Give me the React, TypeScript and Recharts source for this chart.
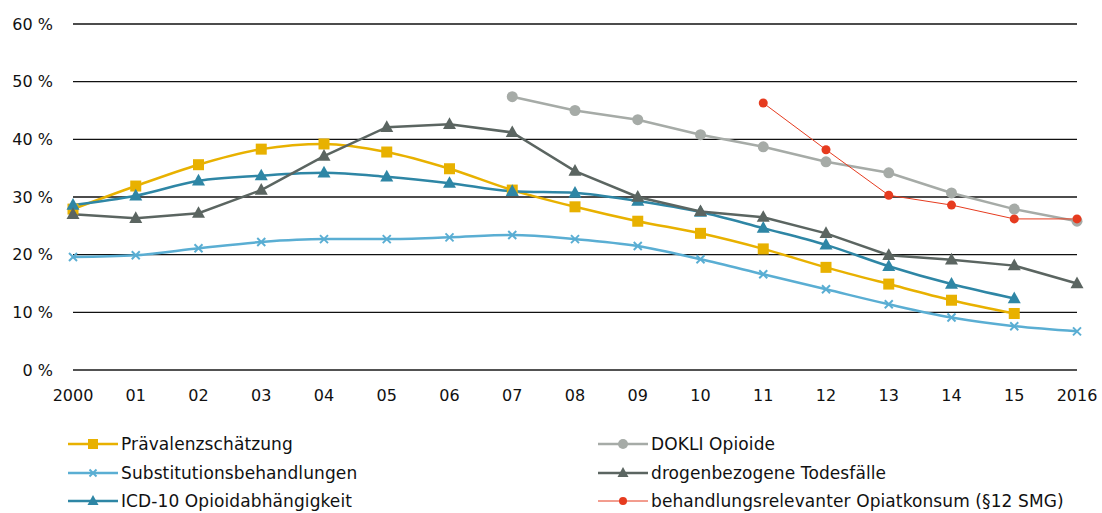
import { LineChart, Line, XAxis, YAxis, CartesianGrid } from 'recharts';

const years = [2000, 2001, 2002, 2003, 2004, 2005, 2006, 2007, 2008, 2009, 2010, 2011, 2012, 2013, 2014, 2015, 2016];
const yTicks = [0, 10, 20, 30, 40, 50, 60];

// Werte in %, null = kein Wert
const praevalenz = [27.9, 31.9, 35.6, 38.3, 39.2, 37.8, 34.9, 31.2, 28.3, 25.8, 23.7, 21.0, 17.8, 14.9, 12.1, 9.8, null];
const substitution = [19.6, 19.9, 21.1, 22.2, 22.7, 22.7, 23.0, 23.4, 22.7, 21.5, 19.2, 16.6, 14.0, 11.4, 9.1, 7.6, 6.7];
const icd10 = [28.6, 30.2, 32.8, 33.7, 34.2, 33.5, 32.4, 31.0, 30.7, 29.3, 27.4, 24.6, 21.7, 18.0, 14.9, 12.4, null];
const dokli = [null, null, null, null, null, null, null, 47.4, 45.0, 43.4, 40.8, 38.7, 36.1, 34.2, 30.7, 27.9, 25.8];
const todesfaelle = [27.0, 26.3, 27.2, 31.2, 37.1, 42.1, 42.6, 41.2, 34.5, 30.0, 27.5, 26.5, 23.7, 19.9, 19.1, 18.1, 15.0];
const opiatkonsum = [null, null, null, null, null, null, null, null, null, null, null, 46.3, 38.2, 30.3, 28.6, 26.2, 26.2];

const data = years.map((year, i) => ({
  year,
  praevalenz: praevalenz[i],
  substitution: substitution[i],
  icd10: icd10[i],
  dokli: dokli[i],
  todesfaelle: todesfaelle[i],
  opiatkonsum: opiatkonsum[i],
}));

const FONT = '"DejaVu Sans", sans-serif';

const Marker = ({ cx, cy, shape, color, size }: any) => {
  if (cx == null || cy == null) return null;
  if (shape === 'square') {
    return <rect x={cx - size / 2} y={cy - size / 2} width={size} height={size} fill={color} />;
  }
  if (shape === 'triangle') {
    const h = size * 0.9;
    return (
      <polygon
        points={`${cx},${cy - h * 0.6} ${cx - size / 2},${cy + h * 0.4} ${cx + size / 2},${cy + h * 0.4}`}
        fill={color}
      />
    );
  }
  if (shape === 'cross') {
    const d = size / 2;
    return (
      <g stroke={color} strokeWidth={2}>
        <line x1={cx - d} y1={cy - d} x2={cx + d} y2={cy + d} />
        <line x1={cx - d} y1={cy + d} x2={cx + d} y2={cy - d} />
      </g>
    );
  }
  return <circle cx={cx} cy={cy} r={size / 2} fill={color} />;
};

const series = [
  { key: 'praevalenz', name: 'Prävalenzschätzung', color: '#E8B100', shape: 'square', size: 11, width: 2.5, type: 'monotone' },
  { key: 'substitution', name: 'Substitutionsbehandlungen', color: '#5AAED3', shape: 'cross', size: 8, width: 2.5, type: 'monotone' },
  { key: 'icd10', name: 'ICD-10 Opioidabhängigkeit', color: '#2E86A5', shape: 'triangle', size: 13, width: 2.5, type: 'monotone' },
  { key: 'dokli', name: 'DOKLI Opioide', color: '#A6ABA7', shape: 'circle', size: 11, width: 2.5, type: 'linear' },
  { key: 'todesfaelle', name: 'drogenbezogene Todesfälle', color: '#5B6561', shape: 'triangle', size: 13, width: 2.5, type: 'linear' },
  { key: 'opiatkonsum', name: 'behandlungsrelevanter Opiatkonsum (§12 SMG)', color: '#E63B1F', shape: 'circle', size: 9, width: 1, type: 'linear' },
];

const legendLeft = [0, 1, 2];
const legendRight = [3, 4, 5];

const LegendItem = ({ s }: any) => (
  <div style={{ display: 'flex', alignItems: 'center', height: 28.5 }}>
    <svg width={50} height={16} style={{ marginRight: 3 }}>
      <line x1={0} y1={8} x2={50} y2={8} stroke={s.color} strokeWidth={s.width === 1 ? 1 : 2.5} />
      <Marker cx={25} cy={8} shape={s.shape} color={s.color} size={s.shape === 'triangle' ? 11 : s.size - 1} />
    </svg>
    <span style={{ fontSize: 17, color: '#111', fontFamily: FONT, whiteSpace: 'nowrap', letterSpacing: 0.1 }}>{s.name}</span>
  </div>
);

export default function App() {
  return (
    <div style={{ position: 'absolute', left: 0, top: 0, width: 1102, height: 513, background: '#fff' }}>
      <LineChart width={1102} height={420} data={data} margin={{ top: 24, right: 25, left: 0, bottom: 0 }}>
        <CartesianGrid vertical={false} stroke="#111" strokeWidth={1.3} />
        <XAxis
          dataKey="year"
          type="number"
          domain={[2000, 2016]}
          ticks={years}
          tickFormatter={(v: number) => (v === 2000 || v === 2016 ? String(v) : String(v).slice(2))}
          axisLine={{ stroke: '#555', strokeWidth: 1.5 }}
          tickLine={false}
          tickSize={0}
          tickMargin={20}
          height={50}
          tick={{ fill: '#111', fontSize: 16, fontFamily: FONT }}
          interval={0}
        />
        <YAxis
          domain={[0, 60]}
          ticks={yTicks}
          tickFormatter={(v: number) => `${v} %`}
          axisLine={false}
          tickLine={false}
          tickSize={0}
          tickMargin={20}
          width={73}
          tick={{ fill: '#111', fontSize: 16, fontFamily: FONT }}
          interval={0}
        />
        {series.map((s) => (
          <Line
            key={s.key}
            dataKey={s.key}
            name={s.name}
            type={s.type as any}
            stroke={s.color}
            strokeWidth={s.width}
            dot={(p: any) => <Marker key={`${s.key}-${p.index}`} cx={p.cx} cy={p.cy} shape={s.shape} color={s.color} size={s.size} />}
            activeDot={false}
            connectNulls={false}
            isAnimationActive={false}
          />
        ))}
      </LineChart>
      <div style={{ position: 'absolute', left: 68, top: 430 }}>
        {legendLeft.map((i) => <LegendItem key={i} s={series[i]} />)}
      </div>
      <div style={{ position: 'absolute', left: 598, top: 430 }}>
        {legendRight.map((i) => <LegendItem key={i} s={series[i]} />)}
      </div>
    </div>
  );
}
